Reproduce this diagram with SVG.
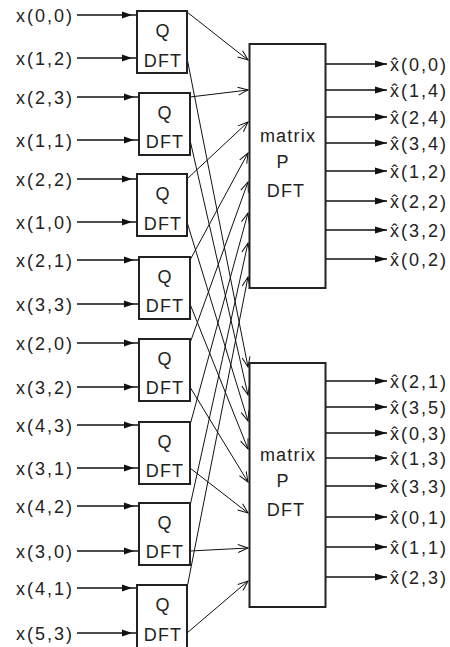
<svg xmlns="http://www.w3.org/2000/svg" xmlns:xlink="http://www.w3.org/1999/xlink" width="450" height="647" viewBox="0 0 450 647">
<style>
text{font-family:"Liberation Sans",Arial,sans-serif;font-size:18px;fill:#222;letter-spacing:1.2px}
.lab{letter-spacing:2px}
.box{fill:#fff;stroke:#222;stroke-width:2}
.in{stroke:#111;stroke-width:1.5;fill:none}
.c{stroke:#111;stroke-width:1;fill:none;marker-end:url(#open)}
.out{stroke:#111;stroke-width:1.5;fill:none;marker-end:url(#fill)}
.mid{text-anchor:middle}
.end{text-anchor:end}
</style>
<defs>
<marker id="open" viewBox="-11 -5 12 10" refX="0" refY="0" markerWidth="12" markerHeight="10" markerUnits="userSpaceOnUse" orient="auto">
<path d="M-10,-4 L0,0 L-10,4" fill="none" stroke="#111" stroke-width="1"/>
</marker>
<marker id="fill" viewBox="-13 -5 14 10" refX="0" refY="0" markerWidth="14" markerHeight="10" markerUnits="userSpaceOnUse" orient="auto">
<path d="M-12,-3.5 L0,0 L-12,3.5 Z" fill="#111"/>
</marker>
<path id="ah" d="M-10,-3.5 L0,0 L-10,3.5 Z" fill="#111"/>
</defs>
<rect width="450" height="647" fill="#fff"/>

<g id="inputs">
<g id="in1"><text class="end lab" x="74" y="22">x(0,0)</text><line class="in" x1="77" y1="15" x2="137" y2="15"/><use xlink:href="#ah" x="132" y="15"/></g>
<g id="in2"><text class="end lab" x="74" y="65">x(1,2)</text><line class="in" x1="77" y1="58" x2="137" y2="58"/><use xlink:href="#ah" x="132" y="58"/></g>
<g id="in3"><text class="end lab" x="74" y="104">x(2,3)</text><line class="in" x1="77" y1="97" x2="139" y2="97"/><use xlink:href="#ah" x="134" y="97"/></g>
<g id="in4"><text class="end lab" x="74" y="147">x(1,1)</text><line class="in" x1="77" y1="140" x2="139" y2="140"/><use xlink:href="#ah" x="134" y="140"/></g>
<g id="in5"><text class="end lab" x="74" y="186">x(2,2)</text><line class="in" x1="77" y1="179" x2="137" y2="179"/><use xlink:href="#ah" x="132" y="179"/></g>
<g id="in6"><text class="end lab" x="74" y="229">x(1,0)</text><line class="in" x1="77" y1="222" x2="137" y2="222"/><use xlink:href="#ah" x="132" y="222"/></g>
<g id="in7"><text class="end lab" x="74" y="267">x(2,1)</text><line class="in" x1="77" y1="260" x2="139" y2="260"/><use xlink:href="#ah" x="134" y="260"/></g>
<g id="in8"><text class="end lab" x="74" y="311">x(3,3)</text><line class="in" x1="77" y1="304" x2="139" y2="304"/><use xlink:href="#ah" x="134" y="304"/></g>
<g id="in9"><text class="end lab" x="74" y="350">x(2,0)</text><line class="in" x1="77" y1="343" x2="139" y2="343"/><use xlink:href="#ah" x="134" y="343"/></g>
<g id="in10"><text class="end lab" x="74" y="394">x(3,2)</text><line class="in" x1="77" y1="387" x2="139" y2="387"/><use xlink:href="#ah" x="134" y="387"/></g>
<g id="in11"><text class="end lab" x="74" y="432">x(4,3)</text><line class="in" x1="77" y1="425" x2="139" y2="425"/><use xlink:href="#ah" x="134" y="425"/></g>
<g id="in12"><text class="end lab" x="74" y="475">x(3,1)</text><line class="in" x1="77" y1="468" x2="139" y2="468"/><use xlink:href="#ah" x="134" y="468"/></g>
<g id="in13"><text class="end lab" x="74" y="513">x(4,2)</text><line class="in" x1="77" y1="506" x2="139" y2="506"/><use xlink:href="#ah" x="134" y="506"/></g>
<g id="in14"><text class="end lab" x="74" y="558">x(3,0)</text><line class="in" x1="77" y1="551" x2="139" y2="551"/><use xlink:href="#ah" x="134" y="551"/></g>
<g id="in15"><text class="end lab" x="74" y="595">x(4,1)</text><line class="in" x1="77" y1="588" x2="137" y2="588"/><use xlink:href="#ah" x="132" y="588"/></g>
<g id="in16"><text class="end lab" x="74" y="640">x(5,3)</text><line class="in" x1="77" y1="633" x2="137" y2="633"/><use xlink:href="#ah" x="132" y="633"/></g>
</g>

<g id="connectors">
<line class="c" x1="187" y1="12" x2="248" y2="60"/>
<line class="c" x1="190" y1="97" x2="248" y2="90"/>
<line class="c" x1="187" y1="179" x2="248" y2="122"/>
<line class="c" x1="190" y1="260" x2="248" y2="153"/>
<line class="c" x1="190" y1="343" x2="248" y2="182"/>
<line class="c" x1="190" y1="425" x2="248" y2="213"/>
<line class="c" x1="190" y1="506" x2="248" y2="243"/>
<line class="c" x1="187" y1="588" x2="248" y2="277"/>
<line class="c" x1="187" y1="58" x2="248" y2="367"/>
<line class="c" x1="190" y1="140" x2="248" y2="395"/>
<line class="c" x1="187" y1="222" x2="248" y2="421"/>
<line class="c" x1="190" y1="304" x2="248" y2="449"/>
<line class="c" x1="190" y1="387" x2="248" y2="482"/>
<line class="c" x1="190" y1="468" x2="248" y2="513"/>
<line class="c" x1="190" y1="551" x2="248" y2="548"/>
<line class="c" x1="187" y1="633" x2="248" y2="581"/>
</g>

<g id="q1"><rect class="box" x="137" y="11" width="50" height="62"/><text class="mid" x="163" y="37">Q</text><text class="mid" x="163" y="67">DFT</text></g>
<g id="q2"><rect class="box" x="139" y="93" width="51" height="62"/><text class="mid" x="165" y="119">Q</text><text class="mid" x="165" y="148">DFT</text></g>
<g id="q3"><rect class="box" x="137" y="174" width="50" height="62"/><text class="mid" x="163" y="200">Q</text><text class="mid" x="163" y="230">DFT</text></g>
<g id="q4"><rect class="box" x="139" y="257" width="51" height="62"/><text class="mid" x="165" y="283">Q</text><text class="mid" x="165" y="312">DFT</text></g>
<g id="q5"><rect class="box" x="139" y="339" width="51" height="62"/><text class="mid" x="165" y="365">Q</text><text class="mid" x="165" y="394">DFT</text></g>
<g id="q6"><rect class="box" x="139" y="422" width="51" height="62"/><text class="mid" x="165" y="448">Q</text><text class="mid" x="165" y="477">DFT</text></g>
<g id="q7"><rect class="box" x="139" y="503" width="51" height="62"/><text class="mid" x="165" y="529">Q</text><text class="mid" x="165" y="558">DFT</text></g>
<g id="q8"><rect class="box" x="137" y="585" width="50" height="64"/><text class="mid" x="163" y="611">Q</text><text class="mid" x="163" y="641">DFT</text></g>

<g id="p1"><rect class="box" x="249.5" y="44" width="76" height="244"/><text class="mid" x="288" y="142">matrix</text><text class="mid" x="283" y="168">P</text><text class="mid" x="286" y="197">DFT</text></g>
<g id="p2"><rect class="box" x="249.5" y="363" width="76" height="244"/><text class="mid" x="288" y="461">matrix</text><text class="mid" x="283" y="487">P</text><text class="mid" x="286" y="516">DFT</text></g>

<g id="outputs">
<line class="out" x1="326" y1="64" x2="387" y2="64"/><text class="lab" x="390" y="71">x̂(0,0)</text>
<line class="out" x1="326" y1="90" x2="387" y2="90"/><text class="lab" x="390" y="97">x̂(1,4)</text>
<line class="out" x1="326" y1="117" x2="387" y2="117"/><text class="lab" x="390" y="124">x̂(2,4)</text>
<line class="out" x1="326" y1="143" x2="387" y2="143"/><text class="lab" x="390" y="150">x̂(3,4)</text>
<line class="out" x1="326" y1="171" x2="387" y2="171"/><text class="lab" x="390" y="178">x̂(1,2)</text>
<line class="out" x1="326" y1="201" x2="387" y2="201"/><text class="lab" x="390" y="208">x̂(2,2)</text>
<line class="out" x1="326" y1="230" x2="387" y2="230"/><text class="lab" x="390" y="237">x̂(3,2)</text>
<line class="out" x1="326" y1="259" x2="387" y2="259"/><text class="lab" x="390" y="266">x̂(0,2)</text>
<line class="out" x1="326" y1="381" x2="387" y2="381"/><text class="lab" x="390" y="388">x̂(2,1)</text>
<line class="out" x1="326" y1="407" x2="387" y2="407"/><text class="lab" x="390" y="414">x̂(3,5)</text>
<line class="out" x1="326" y1="433" x2="387" y2="433"/><text class="lab" x="390" y="440">x̂(0,3)</text>
<line class="out" x1="326" y1="458" x2="387" y2="458"/><text class="lab" x="390" y="465">x̂(1,3)</text>
<line class="out" x1="326" y1="486" x2="387" y2="486"/><text class="lab" x="390" y="493">x̂(3,3)</text>
<line class="out" x1="326" y1="517" x2="387" y2="517"/><text class="lab" x="390" y="524">x̂(0,1)</text>
<line class="out" x1="326" y1="547" x2="387" y2="547"/><text class="lab" x="390" y="554">x̂(1,1)</text>
<line class="out" x1="326" y1="577" x2="387" y2="577"/><text class="lab" x="390" y="584">x̂(2,3)</text>
</g>
</svg>
